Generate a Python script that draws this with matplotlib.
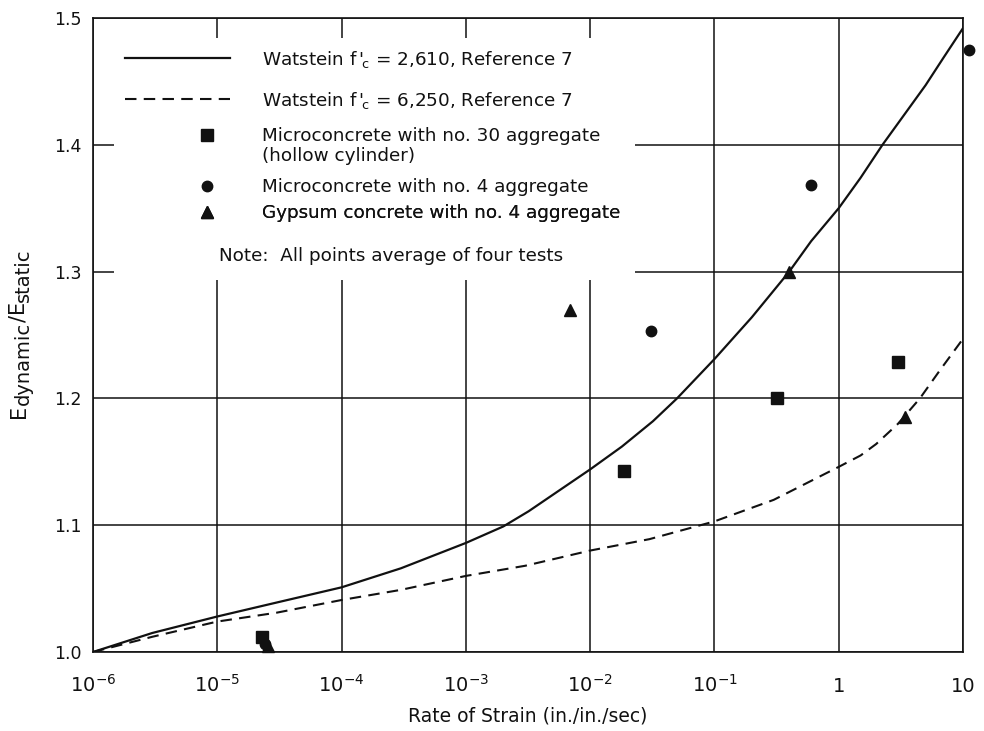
import matplotlib
matplotlib.use("Agg")
import matplotlib.pyplot as plt
from matplotlib.patches import Rectangle

plt.rcParams['font.family'] = ['DejaVu Sans']
plt.rcParams['mathtext.fontset'] = 'dejavusans'

# ---- data ----
strain_2610 = [1e-6, 3e-6, 1e-5, 3e-5, 1e-4, 3e-4, 1e-3, 2e-3, 3.2e-3, 1e-2, 1.8e-2,
               3.2e-2, 5e-2, 1e-1, 2e-1, 4e-1, 0.6, 1, 1.5, 2.25, 3.5, 5, 7, 10]
ratio_2610 = [1.000, 1.015, 1.028, 1.039, 1.051, 1.066, 1.086, 1.099, 1.111, 1.144, 1.162,
              1.182, 1.200, 1.231, 1.264, 1.300, 1.324, 1.350, 1.374, 1.400, 1.426, 1.447,
              1.469, 1.492]

strain_6250 = [1e-6, 3e-6, 1e-5, 3e-5, 1e-4, 3e-4, 1e-3, 3e-3, 1e-2, 3e-2, 1e-1, 3e-1,
               1, 1.5, 2, 3, 4.5, 6.5, 10]
ratio_6250 = [1.000, 1.012, 1.024, 1.031, 1.041, 1.049, 1.060, 1.068, 1.080, 1.089, 1.103,
              1.120, 1.146, 1.155, 1.164, 1.180, 1.200, 1.222, 1.247]

sq_strain = [2.3e-5, 1.86e-2, 0.32, 3.0]
sq_ratio = [1.012, 1.143, 1.200, 1.229]

ci_strain = [2.4e-5, 3.1e-2, 0.60, 11.2]
ci_ratio = [1.006, 1.253, 1.368, 1.475]

tr_strain = [2.55e-5, 6.9e-3, 0.395, 3.4]
tr_ratio = [1.005, 1.270, 1.300, 1.185]

xticks = [1e-6, 1e-5, 1e-4, 1e-3, 1e-2, 1e-1, 1, 10]
xticklabels = [r'$10^{-6}$', r'$10^{-5}$', r'$10^{-4}$', r'$10^{-3}$',
               r'$10^{-2}$', r'$10^{-1}$', '1', '10']
yticks = [1.0, 1.1, 1.2, 1.3, 1.4, 1.5]
yticklabels = ['1.0', '1.1', '1.2', '1.3', '1.4', '1.5']

labels = [r"Watstein $\mathrm{f}\,'_{\!\mathrm{c}}$ = 2,610, Reference 7",
          r"Watstein $\mathrm{f}\,'_{\!\mathrm{c}}$ = 6,250, Reference 7",
          "Microconcrete with no. 30 aggregate",
          "Microconcrete with no. 4 aggregate",
          "Gypsum concrete with no. 4 aggregate"]
extra_line = "(hollow cylinder)"
note = "Note:  All points average of four tests"
xlabel = "Rate of Strain (in./in./sec)"
ylabel_parts = [("E", 0), ("dynamic", 1), ("/E", 0), ("static", 1)]

# ---- figure ----
W, H = 984, 731
fig = plt.figure(figsize=(W / 100, H / 100), dpi=100)
L, R, T, B = 93, 963, 18, 652
ax = fig.add_axes([L / W, 1 - B / H, (R - L) / W, (B - T) / H])

def axx(px):
    return (px - L) / (R - L)

def axy(py):
    return (B - py) / (B - T)

ink = '#111111'
ln1, = ax.plot(strain_2610, ratio_2610, color=ink, lw=1.6, zorder=3)
ln2, = ax.plot(strain_6250, ratio_6250, color=ink, lw=1.5, ls=(0, (5.5, 3.5)), zorder=3)
m1, = ax.plot(sq_strain, sq_ratio, ls='none', marker='s', ms=8, color=ink, zorder=4, clip_on=False)
m2, = ax.plot(ci_strain, ci_ratio, ls='none', marker='o', ms=7.5, color=ink, zorder=4, clip_on=False)
m3, = ax.plot(tr_strain, tr_ratio, ls='none', marker='^', ms=9, color=ink, zorder=4, clip_on=False)

ax.set_xscale('log')
ax.set_xlim(1e-6, 10)
ax.set_ylim(1.0, 1.5)
ax.set_xticks(xticks)
ax.set_xticklabels(xticklabels)
ax.minorticks_off()
ax.set_yticks(yticks)
ax.set_yticklabels(yticklabels)
ax.tick_params(length=0, colors=ink)
ax.tick_params(axis='x', labelsize=14, pad=29)
ax.tick_params(axis='y', labelsize=12.5, pad=8)
for lbl in ax.get_xticklabels():
    lbl.set_verticalalignment('baseline')
ax.grid(True, color=ink, lw=1.1, zorder=1.5)
for s in ax.spines.values():
    s.set_color(ink)
    s.set_linewidth(1.2)

ax.set_xlabel(xlabel, fontsize=13.5, color=ink)
ax.xaxis.set_label_coords(0.5, axy(707))

# white area behind the legend block
ax.add_patch(Rectangle((axx(114), axy(280)), axx(635) - axx(114), axy(38) - axy(280),
                       transform=ax.transAxes, facecolor='white', edgecolor='none', zorder=1.8))

fs = 13.2
fs_px = fs * 100 / 72

def row_legend(handle, label, x_left, y_row, hlen_px, text_x):
    lg = ax.legend([handle], [label], loc='center left',
                   bbox_to_anchor=(axx(x_left), axy(y_row)),
                   frameon=False, borderpad=0, borderaxespad=0, numpoints=1,
                   handlelength=hlen_px / fs_px,
                   handletextpad=(text_x - x_left - hlen_px) / fs_px,
                   prop={'size': fs}, labelcolor=ink)
    ax.add_artist(lg)
    return lg

row_legend(ln1, labels[0], 125, 59, 105, 262)
row_legend(ln2, labels[1], 125, 100, 105, 262)
row_legend(m1, labels[2], 189, 136, 36, 262)
row_legend(m2, labels[3], 189, 187, 36, 262)
row_legend(m3, labels[4], 189, 213, 36, 262)

ax.text(axx(262), axy(156), extra_line, transform=ax.transAxes, fontsize=fs,
        color=ink, ha='left', va='center', zorder=5)
ax.text(axx(219), axy(256), note, transform=ax.transAxes, fontsize=fs,
        color=ink, ha='left', va='center', zorder=5)

# y-axis label built from pieces (large subscripts as in the original)
renderer = fig.canvas.get_renderer()
base_x, y_cur = 25, H - 418
for txt, is_sub in ylabel_parts:
    size = 14 if is_sub else 15
    t = fig.text((base_x + (4 if is_sub else 0)) / W, y_cur / H, txt, rotation=90,
                 rotation_mode='anchor', ha='left', va='baseline', fontsize=size, color=ink)
    bb = t.get_window_extent(renderer)
    y_cur += bb.height

fig.savefig('out.png', dpi=100, facecolor='white')
